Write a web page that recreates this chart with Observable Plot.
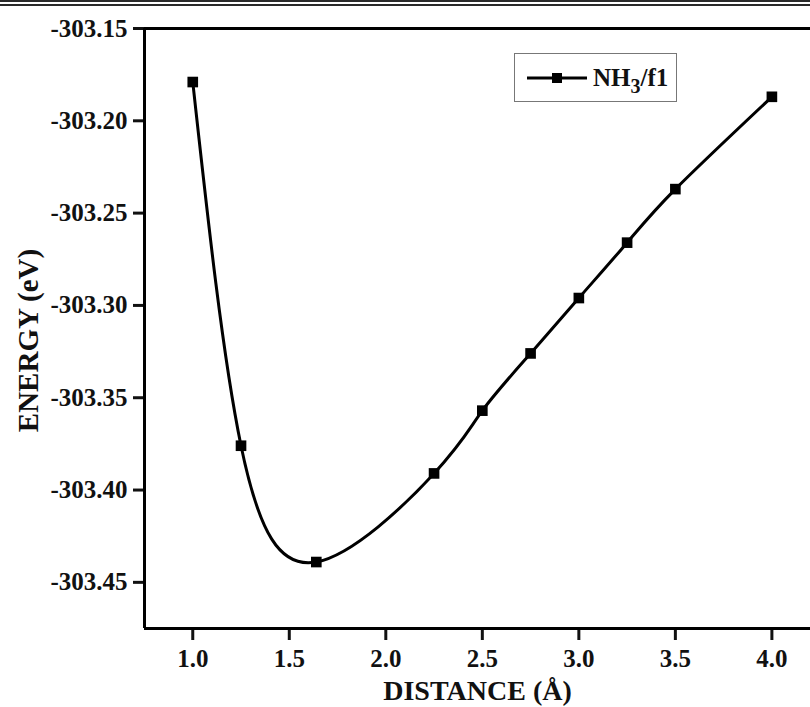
<!DOCTYPE html>
<html>
<head>
<meta charset="utf-8">
<script src="https://cdn.jsdelivr.net/npm/d3@7"></script>
<script src="https://cdn.jsdelivr.net/npm/@observablehq/plot@0.6"></script>
<style>
  body { margin: 0; background: #fff; }
  #wrap { position: relative; width: 810px; height: 707px; overflow: hidden;
          font-family: "Liberation Serif", "Times New Roman", serif; font-weight: bold; color: #111; }
  #rule { position: absolute; left: 0; top: 0; width: 810px; height: 0; border-top: 6px double #2a2a2a; }
  #chart { position: absolute; left: 0; top: 0; }
  #legend { position: absolute; left: 514px; top: 53px; width: 163px; height: 49px; box-sizing: border-box;
            border: 1.5px solid #777; display: flex; align-items: center; padding-left: 12px; font-size: 25px; }
  #legend sub { font-size: 20px; vertical-align: -7px; line-height: 0; }
</style>
</head>
<body>
<div id="wrap">
  <div id="rule"></div>
  <div id="chart"></div>
  <div id="legend">
    <svg width="62" height="20" style="margin-right:4px">
      <line x1="0" x2="60" y1="10" y2="10" stroke="#000" stroke-width="3"></line>
      <rect x="25" y="5" width="10" height="10" fill="#000"></rect>
    </svg>
    <span>NH<sub>3</sub>/f1</span>
  </div>
</div>
<script>
// Potential energy scan of NH3 on f1: energy vs. distance
const distance = [1.0, 1.25, 1.64, 2.25, 2.5, 2.75, 3.0, 3.25, 3.5, 4.0];
const energy = [-303.179, -303.376, -303.439, -303.391, -303.357, -303.326, -303.296, -303.266, -303.237, -303.187];

const xTicks = [1.0, 1.5, 2.0, 2.5, 3.0, 3.5, 4.0];
const yTicks = [-303.15, -303.20, -303.25, -303.30, -303.35, -303.40, -303.45];
const xDomain = [0.75, 4.2];
const yDomain = [-303.475, -303.15];

const rows = distance.map((d, i) => ({distance: d, energy: energy[i]}));

const font = {fontFamily: "Liberation Serif, Times New Roman, serif", fontWeight: "bold"};

const chart = Plot.plot({
  width: 810,
  height: 707,
  marginTop: 28,
  marginLeft: 144,
  marginRight: 0,
  marginBottom: 79,
  style: {fontFamily: font.fontFamily, fontWeight: "bold", fontSize: "25px", color: "#111", background: "transparent"},
  x: {domain: xDomain},
  y: {domain: yDomain},
  marks: [
    Plot.axisX({ticks: xTicks, tickFormat: d => d.toFixed(1), tickSize: 12, tickPadding: 9,
                strokeWidth: 3, fontSize: 25, label: null}),
    Plot.axisY({ticks: yTicks, tickFormat: d => d.toFixed(2), tickSize: 11, tickPadding: 6,
                strokeWidth: 3, fontSize: 25, label: null}),
    Plot.text(["DISTANCE (Å)"], {frameAnchor: "bottom", dy: 71, fontSize: 28, ...font, fill: "#111"}),
    Plot.text(["ENERGY (eV)"], {frameAnchor: "left", textAnchor: "middle", dx: -116, dy: 12, rotate: -90,
                                fontSize: 29, ...font, fill: "#111"}),
    Plot.ruleX([xDomain[0]], {stroke: "#000", strokeWidth: 3}),
    Plot.ruleY(yDomain, {stroke: "#000", strokeWidth: 3}),
    Plot.line(rows, {x: "distance", y: "energy", curve: "natural", stroke: "#000", strokeWidth: 3}),
    Plot.dot(rows, {x: "distance", y: "energy", symbol: "square", r: 6, fill: "#000", stroke: null})
  ]
});
document.getElementById("chart").appendChild(chart);
</script>
</body>
</html>
